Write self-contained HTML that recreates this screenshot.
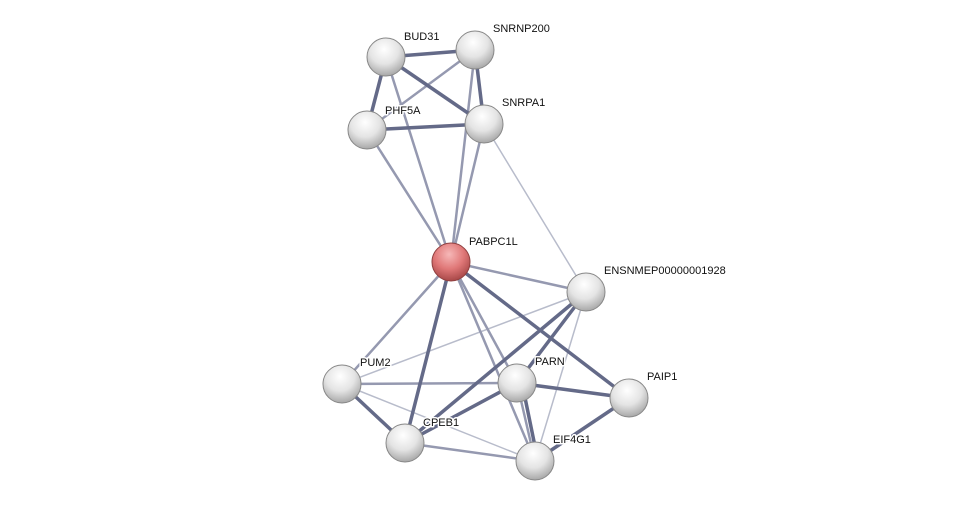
<!DOCTYPE html>
<html><head><style>
html,body{margin:0;padding:0;background:#fff;width:975px;height:506px;overflow:hidden}
svg text{font-family:"Liberation Sans",sans-serif;font-size:11px;fill:#111;stroke:#fff;stroke-width:3px;paint-order:stroke;stroke-linejoin:round}
</style></head><body>
<svg width="975" height="506" viewBox="0 0 975 506" xmlns="http://www.w3.org/2000/svg">
<defs>
<radialGradient id="g" cx="45%" cy="30%" r="70%">
<stop offset="0" stop-color="#ffffff"/><stop offset="0.55" stop-color="#e4e4e4"/><stop offset="1" stop-color="#a8a8a8"/>
</radialGradient>
<radialGradient id="r" cx="45%" cy="30%" r="70%">
<stop offset="0" stop-color="#f6b8b8"/><stop offset="0.55" stop-color="#e07878"/><stop offset="1" stop-color="#a84848"/>
</radialGradient>
</defs>
<g stroke-linecap="round" fill="none">
<g stroke="#b8bccb" stroke-width="1.5">
<line x1="484" y1="124" x2="586" y2="292"/>
<line x1="586" y1="292" x2="342" y2="384"/>
<line x1="586" y1="292" x2="535" y2="461"/>
<line x1="342" y1="384" x2="535" y2="461"/>
</g>
<g stroke="#9599b0" stroke-width="2.5">
<line x1="386" y1="57" x2="451" y2="262"/>
<line x1="475" y1="50" x2="451" y2="262"/>
<line x1="475" y1="50" x2="367" y2="130"/>
<line x1="367" y1="130" x2="451" y2="262"/>
<line x1="484" y1="124" x2="451" y2="262"/>
<line x1="451" y1="262" x2="586" y2="292"/>
<line x1="451" y1="262" x2="342" y2="384"/>
<line x1="451" y1="262" x2="517" y2="383"/>
<line x1="451" y1="262" x2="535" y2="461"/>
<line x1="342" y1="384" x2="517" y2="383"/>
<line x1="405" y1="443" x2="535" y2="461"/>
<line x1="517" y1="383" x2="535" y2="461"/>
</g>
<g stroke="#646a88" stroke-width="3.5">
<line x1="386" y1="57" x2="475" y2="50"/>
<line x1="386" y1="57" x2="367" y2="130"/>
<line x1="386" y1="57" x2="484" y2="124"/>
<line x1="475" y1="50" x2="484" y2="124"/>
<line x1="367" y1="130" x2="484" y2="124"/>
<line x1="451" y1="262" x2="405" y2="443"/>
<line x1="451" y1="262" x2="629" y2="398"/>
<line x1="586" y1="292" x2="405" y2="443"/>
<line x1="586" y1="292" x2="517" y2="383"/>
<line x1="342" y1="384" x2="405" y2="443"/>
<line x1="517" y1="383" x2="405" y2="443"/>
<line x1="517" y1="383" x2="629" y2="398"/>
<line x1="522" y1="383" x2="538" y2="461"/>
<line x1="629" y1="398" x2="535" y2="461"/>
</g>
</g>
<g stroke="#888" stroke-width="1">
<circle cx="386" cy="57" r="19" fill="url(#g)"/>
<circle cx="475" cy="50" r="19" fill="url(#g)"/>
<circle cx="367" cy="130" r="19" fill="url(#g)"/>
<circle cx="484" cy="124" r="19" fill="url(#g)"/>
<circle cx="451" cy="262" r="19" fill="url(#r)" stroke="#904040"/>
<circle cx="586" cy="292" r="19" fill="url(#g)"/>
<circle cx="342" cy="384" r="19" fill="url(#g)"/>
<circle cx="517" cy="383" r="19" fill="url(#g)"/>
<circle cx="629" cy="398" r="19" fill="url(#g)"/>
<circle cx="405" cy="443" r="19" fill="url(#g)"/>
<circle cx="535" cy="461" r="19" fill="url(#g)"/>
</g>
<text x="404" y="40">BUD31</text>
<text x="493" y="32">SNRNP200</text>
<text x="385" y="114">PHF5A</text>
<text x="502" y="106">SNRPA1</text>
<text x="469" y="245">PABPC1L</text>
<text x="604" y="274">ENSNMEP00000001928</text>
<text x="360" y="366">PUM2</text>
<text x="535" y="365">PARN</text>
<text x="647" y="380">PAIP1</text>
<text x="423" y="426">CPEB1</text>
<text x="553" y="443">EIF4G1</text>
</svg>
</body></html>
